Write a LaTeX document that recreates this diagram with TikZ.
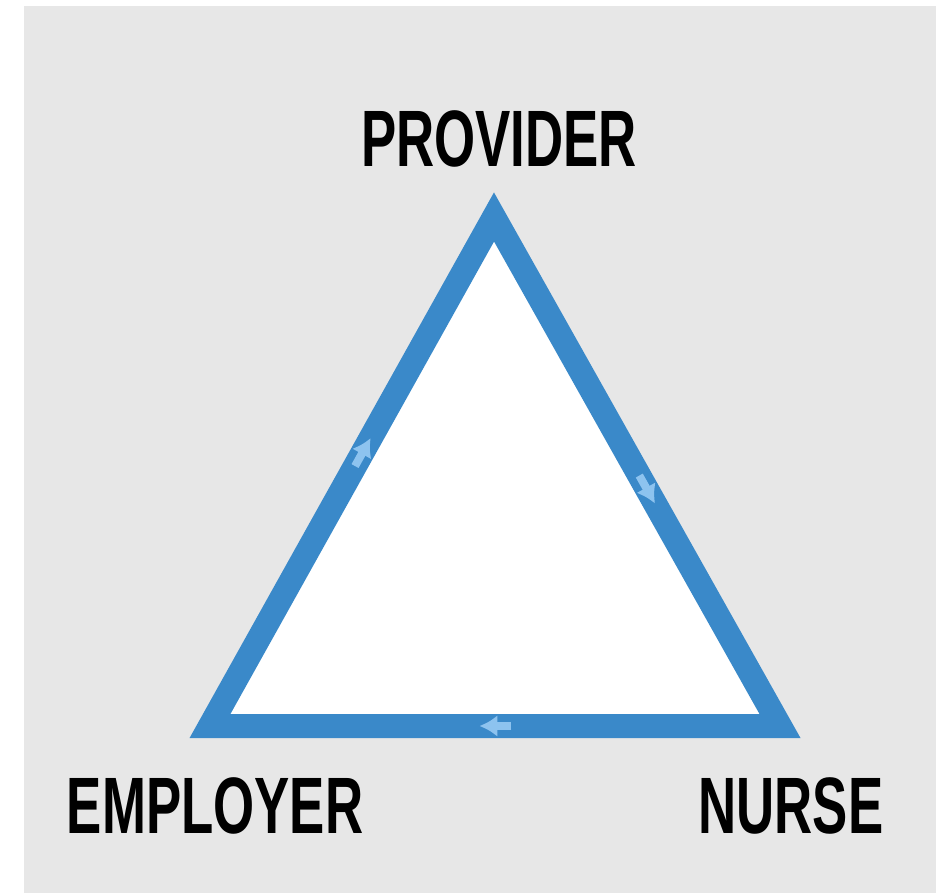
\documentclass[tikz,border=0pt]{standalone}
\usepackage{fontspec}
\usetikzlibrary{arrows.meta,decorations.markings}

\newfontfamily\labelfont{Liberation Sans}
\definecolor{bggray}{HTML}{E7E7E7}
\definecolor{edgeblue}{HTML}{3A89C9}
\definecolor{tipblue}{HTML}{8DC3EF}

\newcommand{\narrow}[1]{\scalebox{0.66}[1]{#1}}

\tikzset{
  lbl/.style={inner sep=0pt, anchor=base, font=\labelfont\bfseries\fontsize{40}{40}\selectfont},
  flow/.style={line width=4pt, tipblue, -{Latex[length=9pt,width=11pt]}},
  edge/.style={draw=edgeblue, fill=white, line width=12pt, line join=miter,
    postaction={decorate, decoration={markings,
      mark=at position 0.18 with {\draw[flow] (-8pt,0) -- (8pt,0);},
      mark=at position 0.50 with {\draw[flow] (-8pt,0) -- (8pt,0);},
      mark=at position 0.845 with {\draw[flow] (-8pt,0) -- (8pt,0);}}}}
}

\begin{document}
\begin{tikzpicture}[x=0.5pt, y=-0.5pt]
    \useasboundingbox (0,0) rectangle (943,893);
    \fill[white] (0,0) rectangle (943,893);
    \fill[bggray] (24,6) rectangle (936,893);

    % corners of the triangle
    \coordinate (top) at (494,217);
    \coordinate (right) at (780,726);
    \coordinate (left) at (210,726);

    \path[edge] (top) -- (right) -- (left) -- cycle;

    % labels
    \node[lbl] (provider) at (499,167) {\narrow{PROVIDER}};
    \node[lbl] (employer) at (215,833) {\narrow{EMPLOYER}};
    \node[lbl] (nurse) at (791,833) {\narrow{NURSE}};

\end{tikzpicture}
\end{document}
